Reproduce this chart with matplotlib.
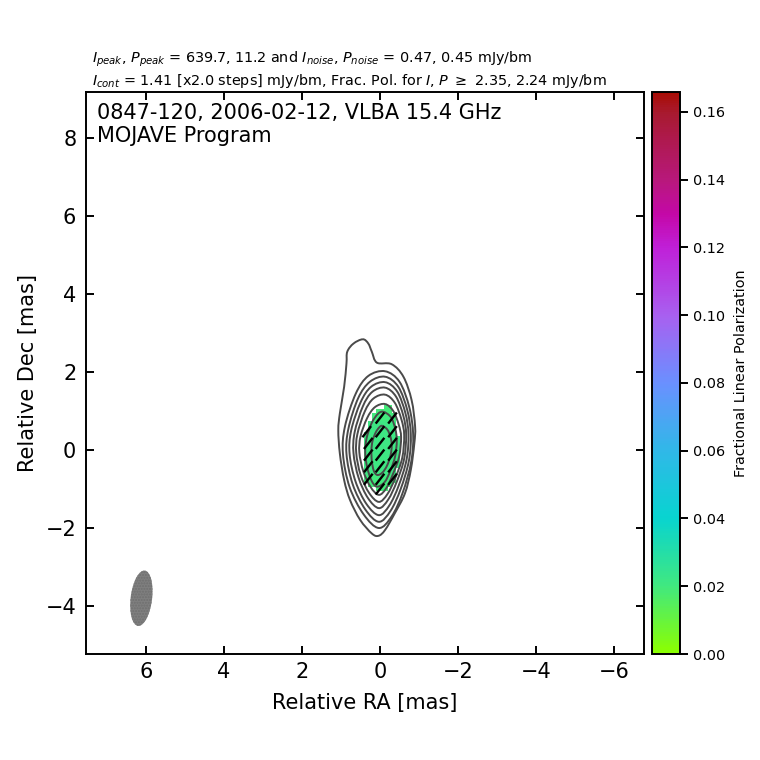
import matplotlib
matplotlib.use("Agg")
import matplotlib.pyplot as plt
import numpy as np
from matplotlib.colors import LinearSegmentedColormap
from matplotlib.patches import Ellipse, PathPatch
from matplotlib.path import Path

# contour outlines, (RA, Dec) in mas
cont_0 = [(0.44, 2.84), (0.68, 2.73), (0.84, 2.52), (0.86, 2.22), (0.92, 1.62), (1.03, 0.94), (1.07, 0.51),
          (1.03, -0.09), (0.92, -0.77), (0.77, -1.28), (0.51, -1.79), (0.21, -2.14), (0.04, -2.20), (-0.13, -2.05),
          (-0.38, -1.62), (-0.64, -1.11), (-0.79, -0.51), (-0.88, 0.17), (-0.90, 0.60), (-0.81, 1.28), (-0.60, 1.88),
          (-0.30, 2.20), (0.08, 2.24), (0.21, 2.52), (0.30, 2.73)]
cont_1 = [(-0.13, 2.02), (-0.50, 1.75), (-0.75, 1.10), (-0.85, 0.40), (-0.80, -0.30), (-0.58, -1.10), (-0.30, -1.70),
          (0.03, -2.00), (0.42, -1.65), (0.78, -0.95), (0.95, -0.10), (0.90, 0.60), (0.62, 1.45), (0.30, 1.90)]
cont_2 = [(-0.13, 1.88), (-0.47, 1.62), (-0.70, 1.02), (-0.79, 0.40), (-0.74, -0.28), (-0.53, -1.00), (-0.27, -1.56),
          (0.03, -1.84), (0.38, -1.52), (0.70, -0.88), (0.86, -0.10), (0.81, 0.55), (0.56, 1.33), (0.26, 1.75)]
cont_3 = [(-0.13, 1.74), (-0.44, 1.50), (-0.65, 0.95), (-0.73, 0.40), (-0.68, -0.25), (-0.48, -0.91), (-0.24, -1.42),
          (0.03, -1.67), (0.35, -1.38), (0.63, -0.80), (0.78, -0.10), (0.74, 0.50), (0.50, 1.22), (0.23, 1.62)]
cont_4 = [(-0.13, 1.60), (-0.41, 1.37), (-0.60, 0.87), (-0.67, 0.40), (-0.62, -0.22), (-0.43, -0.81), (-0.21, -1.27),
          (0.03, -1.49), (0.31, -1.23), (0.55, -0.71), (0.68, -0.08), (0.65, 0.46), (0.44, 1.12), (0.20, 1.49)]
cont_5 = [(-0.13, 1.42), (-0.38, 1.21), (-0.55, 0.78), (-0.62, 0.38), (-0.57, -0.20), (-0.39, -0.72), (-0.19, -1.13),
          (0.03, -1.33), (0.28, -1.10), (0.50, -0.63), (0.61, -0.07), (0.58, 0.41), (0.39, 0.99), (0.17, 1.32)]
cont_6 = [(-0.13, 1.18), (-0.34, 1.00), (-0.48, 0.65), (-0.54, 0.33), (-0.49, -0.17), (-0.33, -0.62), (-0.16, -0.98),
          (0.03, -1.15), (0.24, -0.95), (0.43, -0.54), (0.53, -0.06), (0.50, 0.35), (0.33, 0.82), (0.13, 1.10)]
cont_7 = [(-0.09, 0.98), (-0.28, 0.84), (-0.39, 0.55), (-0.43, 0.25), (-0.39, -0.15), (-0.27, -0.52), (-0.12, -0.82),
          (0.08, -0.94), (0.22, -0.78), (0.33, -0.44), (0.38, -0.05), (0.34, 0.32), (0.21, 0.70), (0.05, 0.93)]
cont_8 = [(-0.06, 0.62), (-0.19, 0.52), (-0.27, 0.33), (-0.30, 0.12), (-0.27, -0.14), (-0.18, -0.40), (-0.06, -0.58),
          (0.07, -0.64), (0.16, -0.53), (0.21, -0.28), (0.22, 0.00), (0.19, 0.24), (0.11, 0.45), (0.02, 0.58)]
contours = [cont_0, cont_1, cont_2, cont_3, cont_4, cont_5, cont_6, cont_7, cont_8]

# fractional polarization pixels, one RA span per Dec row
pol_dec = [1.1, 1.0, 0.9, 0.8, 0.7, 0.6, 0.5, 0.4, 0.3, 0.2, 0.1, 0.0, -0.1, -0.2, -0.3, -0.4, -0.5, -0.6, -0.7, -0.8, -0.9, -1.0]
pol_east = [-0.1, 0.1, 0.2, 0.2, 0.3, 0.3, 0.3, 0.4, 0.4, 0.4, 0.4, 0.4, 0.4, 0.4, 0.4, 0.4, 0.4, 0.4, 0.4, 0.4, 0.3, 0.1]
pol_west = [-0.3, -0.3, -0.4, -0.4, -0.4, -0.4, -0.4, -0.4, -0.5, -0.5, -0.5, -0.5, -0.5, -0.5, -0.5, -0.5, -0.4, -0.4, -0.4, -0.4, -0.3, -0.2]
pol_frac = [0.019, 0.019, 0.020, 0.020, 0.021, 0.021, 0.021, 0.021, 0.021, 0.021, 0.021, 0.021, 0.021, 0.021, 0.021, 0.021, 0.021, 0.021, 0.020, 0.020, 0.019, 0.019]

# EVPA ticks
tick_ra = [0.0, -0.32, 0.34, 0.0, -0.32, 0.3, 0.0, -0.32, 0.3, 0.0, -0.32, 0.3, 0.0, -0.32, 0.3, 0.0, -0.32, 0.0]
tick_dec = [0.82, 0.82, 0.47, 0.47, 0.47, 0.17, 0.17, 0.17, -0.13, -0.13, -0.13, -0.43, -0.43, -0.43, -0.75, -0.75, -0.75, -1.0]
evpa = np.radians(38)
tick_len = 0.36

# colorbar colours, from the bar
cbar_vals = [0.0, 0.02, 0.04, 0.06, 0.08, 0.10, 0.12, 0.13, 0.14, 0.16, 0.166]
cbar_cols = ["#8cff00", "#40e880", "#08d4d0", "#30b8e8", "#6a90ff", "#a860f0", "#c020d8", "#c408a8", "#b8187c", "#a81a30", "#a80c04"]
cbar_max = 0.1659

cmap = LinearSegmentedColormap.from_list("fpol", [(min(v / 0.166, 1), c) for v, c in zip(cbar_vals, cbar_cols)], N=256)

def smooth_path(pts):
    # closed bezier through the read points
    pts = np.asarray(pts)
    prev_p = np.roll(pts, 1, axis=0)
    next_p = np.roll(pts, -1, axis=0)
    next2_p = np.roll(pts, -2, axis=0)
    verts = [pts[0]]
    codes = [Path.MOVETO]
    for p, a, b, c in zip(pts, prev_p, next_p, next2_p):
        verts += [p + (b - a) / 6, b - (c - p) / 6, b]
        codes += [Path.CURVE4, Path.CURVE4, Path.CURVE4]
    return Path(verts, codes)

fig = plt.figure(figsize=(7.6, 7.6), dpi=100)
ax = fig.add_axes([86 / 760, 1 - 654 / 760, 558 / 760, 562 / 760])
cax = fig.add_axes([652 / 760, 1 - 654 / 760, 28 / 760, 562 / 760])

ra_edges = np.arange(-0.5, 0.45, 0.1)
dec_edges = np.append(np.array(pol_dec[::-1]) - 0.05, pol_dec[0] + 0.05)
ra_mid = (ra_edges[:-1] + ra_edges[1:]) / 2
grid = np.full((len(pol_dec), len(ra_mid)), np.nan)
for i in range(len(pol_dec)):
    row = len(pol_dec) - 1 - i
    inside = (ra_mid <= pol_east[i] + 0.01) & (ra_mid >= pol_west[i] - 0.01)
    grid[row, inside] = pol_frac[i]
mesh = ax.pcolormesh(ra_edges, dec_edges, np.ma.masked_invalid(grid), cmap=cmap, vmin=0, vmax=cbar_max, zorder=1)

for c in contours:
    ax.add_patch(PathPatch(smooth_path(c), fill=False, edgecolor="#4a4a4a", linewidth=1.4, zorder=2))

dx = tick_len / 2 * np.sin(evpa)
dy = tick_len / 2 * np.cos(evpa)
for r, d in zip(tick_ra, tick_dec):
    ax.plot([r + dx, r - dx], [d - dy, d + dy], color="black", linewidth=1.7, zorder=3, solid_capstyle="butt")

ax.add_patch(Ellipse((6.12, -3.8), 0.55, 1.43, angle=7, facecolor="#7f7f7f", edgecolor="#6f6f6f",
                     hatch="......", linewidth=0, zorder=2))

ax.set_xlim(7.54, -6.77)
ax.set_ylim(-5.23, 9.18)
ax.set_xticks([6, 4, 2, 0, -2, -4, -6])
ax.set_yticks([-4, -2, 0, 2, 4, 6, 8])
ax.tick_params(direction="in", top=True, right=True, labelsize=15, length=6, width=1.4)
ax.tick_params(axis="x", pad=5.5)
ax.tick_params(axis="y", pad=7)
for s in ax.spines.values():
    s.set_linewidth(1.4)
ax.set_xlabel("Relative RA [mas]", fontsize=15, labelpad=8)
ax.set_ylabel("Relative Dec [mas]", fontsize=15, labelpad=5.5)
ax.text(0.02, 0.98, "0847-120, 2006-02-12, VLBA 15.4 GHz\nMOJAVE Program", transform=ax.transAxes,
        fontsize=15, va="top", ha="left", linespacing=1.2)

fig.text(92 / 760, 1 - 63 / 760, r"$I_{peak}$, $P_{peak}$ = 639.7, 11.2 and $I_{noise}$, $P_{noise}$ = 0.47, 0.45 mJy/bm", fontsize=10.4)
fig.text(92 / 760, 1 - 85 / 760, r"$I_{cont}$ = 1.41 [x2.0 steps] mJy/bm, Frac. Pol. for $I$, $P$ $\geq$ 2.35, 2.24 mJy/bm", fontsize=10.4)

cb = fig.colorbar(mesh, cax=cax)
cb.set_ticks([0, 0.02, 0.04, 0.06, 0.08, 0.10, 0.12, 0.14, 0.16])
cb.set_ticklabels(["0.00", "0.02", "0.04", "0.06", "0.08", "0.10", "0.12", "0.14", "0.16"])
cb.ax.tick_params(labelsize=10.4, length=6, width=1.4)
cb.outline.set_linewidth(1.4)
cb.set_label("Fractional Linear Polarization", fontsize=10.4, labelpad=6)

fig.savefig("out.png", dpi=100)
